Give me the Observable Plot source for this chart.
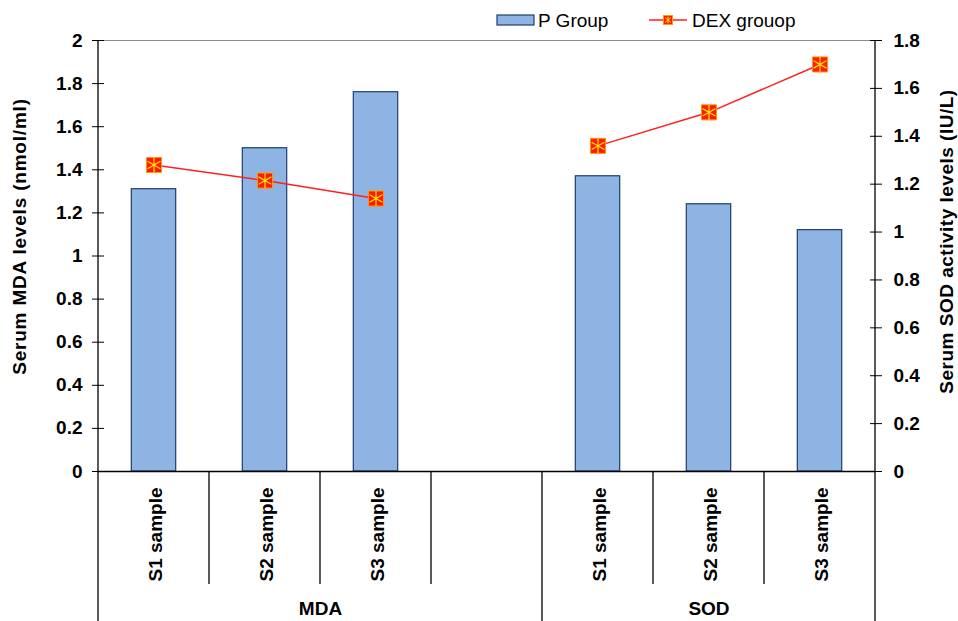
<!DOCTYPE html>
<html>
<head>
<meta charset="utf-8">
<script src="https://cdn.jsdelivr.net/npm/d3@7"></script>
<script src="https://cdn.jsdelivr.net/npm/@observablehq/plot@0.6"></script>
<style>
  body { margin: 0; background: white; }
  #chart { position: relative; width: 958px; height: 621px; }
</style>
</head>
<body>
<div id="chart"></div>
<script>
// ---- data ----
const groups = ["MDA", "SOD"];
const samples = ["S1 sample", "S2 sample", "S3 sample"];
const pGroupMDA = [1.31, 1.50, 1.76];   // left axis (nmol/ml)
const pGroupSOD = [1.37, 1.24, 1.12];   // left axis scale
const dexMDA = [1.28, 1.215, 1.14];     // right axis scale
const dexSOD = [1.36, 1.50, 1.70];      // right axis (IU/L)
const leftTicks = [0, 0.2, 0.4, 0.6, 0.8, 1, 1.2, 1.4, 1.6, 1.8, 2];
const rightTicks = [0, 0.2, 0.4, 0.6, 0.8, 1, 1.2, 1.4, 1.6, 1.8];
const leftMax = 2, rightMax = 1.8;
const seriesNames = ["P Group", "DEX grouop"];

// slots: 3 MDA samples, one empty slot, 3 SOD samples
const slotsPerGroup = samples.length + 1;
const nSlots = groups.length * slotsPerGroup - 1;
const toLeft = v => v * leftMax / rightMax;
const fmt = v => String(+v.toFixed(1));

const barData = [], lineData = [], labelData = [];
groups.forEach((g, gi) => {
  const pv = gi === 0 ? pGroupMDA : pGroupSOD;
  const dv = gi === 0 ? dexMDA : dexSOD;
  samples.forEach((s, si) => {
    const i = gi * slotsPerGroup + si;
    barData.push({group: g, sample: s, i, value: pv[si]});
    lineData.push({group: g, sample: s, i, value: toLeft(dv[si])});
    labelData.push({sample: s, i});
  });
});
const groupStart = gi => gi * slotsPerGroup;
const groupEnd = gi => Math.min((gi + 1) * slotsPerGroup, nSlots);
const groupLabels = groups.map((g, gi) => ({group: g, x: (groupStart(gi) + groupEnd(gi)) / 2}));

const font = "Arial, 'Liberation Sans', sans-serif";
const barFill = "#8EB4E3", barStroke = "#1F3B70";

const chart = Plot.plot({
  width: 958,
  height: 621,
  marginTop: 40,
  marginBottom: 150,
  marginLeft: 98,
  marginRight: 83,
  x: {domain: [0, nSlots], axis: null},
  y: {domain: [0, leftMax], axis: null},
  style: {fontFamily: font, background: "white", color: "black"},
  marks: [
    Plot.ruleY([leftMax], {stroke: "#8c8c8c", strokeWidth: 1.2}),
    Plot.rectY(barData, {x1: d => d.i + 0.3, x2: d => d.i + 0.7, y: "value", fill: barFill, stroke: barStroke, strokeWidth: 1.2}),
    Plot.ruleY([0], {stroke: "black", strokeWidth: 1.3}),
    Plot.line(lineData, {x: d => d.i + 0.5, y: "value", z: "group", stroke: "#ff2020", strokeWidth: 1.5}),
    Plot.dot(lineData, {x: d => d.i + 0.5, y: "value", symbol: "square", r: 8.5, fill: "#ff1a00", stroke: "#ff9a00", strokeWidth: 1}),
    Plot.dot(lineData, {x: d => d.i + 0.5, y: "value", symbol: "asterisk", r: 7, stroke: "#ffe600", strokeWidth: 1.2}),
    Plot.axisY({anchor: "left", ticks: leftTicks, tickFormat: fmt, tickSize: 12, dx: 6, tickPadding: 10,
      fontSize: 19, fontWeight: "bold", label: null, stroke: "black"}),
    Plot.axisY({anchor: "right", ticks: rightTicks.map(toLeft), tickFormat: d => fmt(d * rightMax / leftMax),
      tickSize: 12, dx: -6, tickPadding: 12, fontSize: 19, fontWeight: "bold", label: null, stroke: "black"}),
    Plot.text(labelData, {x: d => d.i + 0.5, y: 0, text: "sample", rotate: -90, textAnchor: "end", dy: 16, dx: 2,
      fontSize: 19, fontWeight: "bold", fill: "black"}),
    Plot.text(groupLabels, {x: "x", y: 0, text: "group", dy: 137, fontSize: 19, fontWeight: "bold", fill: "black"})
  ]
});
document.getElementById("chart").appendChild(chart);

// ---- category dividers, axis lines, titles and legend ----
const svg = d3.select(chart);
const xs = chart.scale("x"), ys = chart.scale("y");
const y0 = ys.apply(0), yTop = ys.apply(leftMax), H = 621;
const lines = svg.append("g").attr("stroke", "black").attr("stroke-width", 1.3);
for (let k = 0; k <= nSlots; k++) {
  const x = xs.apply(k);
  const isOuter = k === 0 || k === nSlots;
  const isGroupEdge = k % slotsPerGroup === 0;
  const top = isOuter ? yTop : y0;
  const bottom = isOuter || isGroupEdge ? H : y0 + 113;
  lines.append("line").attr("x1", x).attr("x2", x).attr("y1", top).attr("y2", bottom);
}

svg.append("text")
  .attr("transform", `translate(26,${(y0 + yTop) / 2 - 19}) rotate(-90)`)
  .attr("text-anchor", "middle").attr("font-family", font).attr("font-size", 19).attr("font-weight", "bold")
  .attr("letter-spacing", 0.8)
  .text("Serum MDA levels (nmol/ml)");
svg.append("text")
  .attr("transform", `translate(953,${(y0 + yTop) / 2 - 14}) rotate(-90)`)
  .attr("text-anchor", "middle").attr("font-family", font).attr("font-size", 19).attr("font-weight", "bold")
  .attr("letter-spacing", 0.5)
  .text("Serum SOD activity levels (IU/L)");

const lg = svg.append("g").attr("font-family", font).attr("font-size", 19).attr("text-anchor", "start");
lg.append("rect").attr("x", 497).attr("y", 15).attr("width", 37).attr("height", 10)
  .attr("fill", barFill).attr("stroke", barStroke).attr("stroke-width", 1.2);
lg.append("text").attr("x", 538).attr("y", 27).text(seriesNames[0]);
lg.append("line").attr("x1", 649).attr("x2", 687).attr("y1", 20).attr("y2", 20).attr("stroke", "#ff2020").attr("stroke-width", 1.5);
lg.append("rect").attr("x", 663.5).attr("y", 15.5).attr("width", 9).attr("height", 9).attr("fill", "#ff1a00").attr("stroke", "#ff9a00");
lg.append("path").attr("d", "M668,16.5V23.5M665,17.5L671,22.5M671,17.5L665,22.5").attr("stroke", "#ffe600").attr("stroke-width", 1);
lg.append("text").attr("x", 692).attr("y", 27).text(seriesNames[1]);
</script>
</body>
</html>
